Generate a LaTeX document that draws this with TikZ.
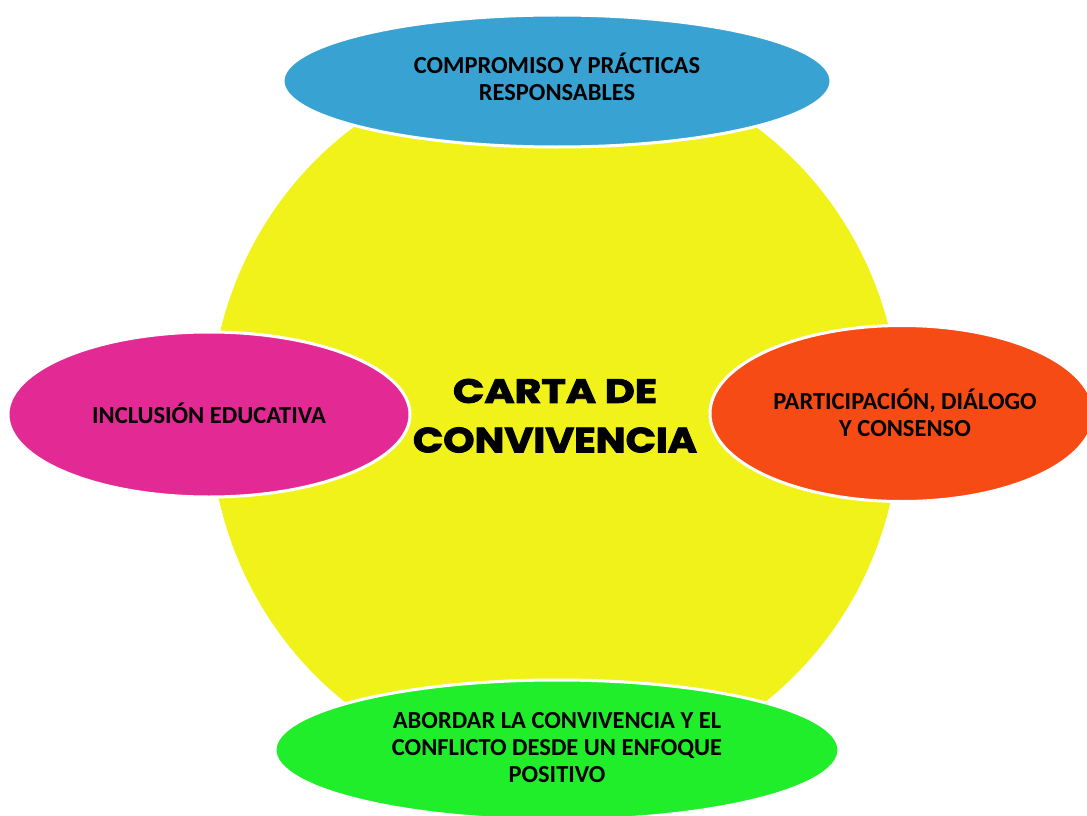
\documentclass[tikz,border=0pt]{standalone}
\usepackage{fontspec}
\setmainfont{Carlito}
\newfontfamily\titlefont{Poppins Bold}[FakeBold=2.5]
\usetikzlibrary{shapes.geometric}
\definecolor{hubyellow}{RGB}{242,242,27}
\definecolor{cblue}{RGB}{56,163,211}
\definecolor{cpink}{RGB}{227,41,147}
\definecolor{corange}{RGB}{247,75,22}
\definecolor{cgreen}{RGB}{33,238,43}
\tikzset{
  petal/.style={ellipse, draw=white, line width=3pt, inner sep=0pt},
  petaltext/.style={inner sep=0pt, align=center,
    font=\fontsize{24.5}{27}\selectfont\bfseries, text=black},
  hub/.style={ellipse, fill=hubyellow, inner sep=0pt},
  title/.style={inner sep=0pt, text=black}
}
\begin{document}
\begin{tikzpicture}[x=1pt,y=-1pt]
\useasboundingbox[fill=white] (0,0) rectangle (1087,816);
\node[hub, minimum width=690pt, minimum height=716pt] (hub) at (555,418) {};
\node[title] (t1) at (555,391) {\resizebox{204pt}{24pt}{\titlefont CARTA DE}};
\node[title] (t2) at (555,440) {\resizebox{284pt}{25pt}{\titlefont CONVIVENCIA}};
\node[petal, fill=cblue, minimum width=548pt, minimum height=132pt] (top) at (557,81) {};
\node[petaltext] (toptext) at (557,77) {COMPROMISO Y PRÁCTICAS\\RESPONSABLES};
\node[petal, fill=cpink, minimum width=402pt, minimum height=165pt] (left) at (209,414.5) {};
\node[petaltext] (lefttext) at (209,413) {INCLUSIÓN EDUCATIVA};
\node[petal, fill=corange, minimum width=384pt, minimum height=176pt] (right) at (902,413.5) {};
\node[petaltext] (righttext) at (905,413) {PARTICIPACIÓN, DIÁLOGO\\Y CONSENSO};
\node[petal, fill=cgreen, minimum width=564pt, minimum height=140pt] (bottom) at (557,750) {};
\node[petaltext] (bottomtext) at (557,748) {ABORDAR LA CONVIVENCIA Y EL\\CONFLICTO DESDE UN ENFOQUE\\POSITIVO};
\end{tikzpicture}
\end{document}
